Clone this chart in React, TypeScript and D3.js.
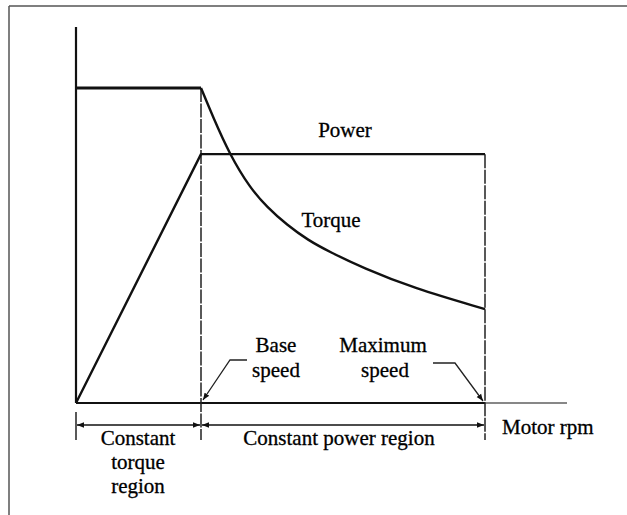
import React from "react";
import * as d3 from "d3";

// Speed in units of base speed, values in units of rated torque
const powerSpeed = [0, 1, 3.272];
const powerValue = [0, 0.79, 0.79];
const torqueFlatSpeed = [0, 1];
const torqueFlatValue = [1, 1];
const torqueSpeed = [1, 1.096, 1.232, 1.392, 1.528, 1.688, 1.856, 2.032, 2.296, 2.696, 3.272];
const torqueValue = [1, 0.908, 0.787, 0.683, 0.622, 0.565, 0.517, 0.479, 0.429, 0.365, 0.298];
const baseSpeed = 1;
const maxSpeed = 3.272;
const axisMaxSpeed = 3.928;
const axisMaxValue = 1.194;

const W = 627;
const H = 515;
const FONT = "'Liberation Serif', 'Times New Roman', serif";

export default function App() {
  const x = d3.scaleLinear().domain([0, 1]).range([76, 201]);
  const y = d3.scaleLinear().domain([0, 1]).range([403, 88]);

  const mk = (xs: number[]) =>
    d3
      .line<number>()
      .x((_, i) => x(xs[i]))
      .y((d) => y(d));
  const powerLine = mk(powerSpeed);
  const torqueFlat = mk(torqueFlatSpeed);
  const torqueLine = mk(torqueSpeed).curve(d3.curveBasis);

  const x0 = x(0);
  const xb = x(baseSpeed);
  const xm = x(maxSpeed);
  const yAxis0 = y(0);
  const dimY = 425;
  const tickBottom = 440;

  const textStyle: React.CSSProperties = {
    fontFamily: FONT,
    fontSize: 21,
    fill: "#000",
    stroke: "#000",
    strokeWidth: 0.3,
  };

  return (
    <svg
      width={W}
      height={H}
      style={{ position: "absolute", left: 0, top: 0, background: "#fff" }}
    >
      <defs>
        <marker id="arr" viewBox="0 0 10 10" refX="10" refY="5" markerWidth="7" markerHeight="7" orient="auto-start-reverse" markerUnits="userSpaceOnUse">
          <path d="M0,1 L10,5 L0,9 Z" fill="#111" />
        </marker>
      </defs>
      {/* frame */}
      <line x1={9} y1={6} x2={627} y2={6} stroke="#555" strokeWidth={1.5} />
      <line x1={9} y1={6} x2={9} y2={515} stroke="#555" strokeWidth={1.5} />

      {/* axes */}
      <line x1={x0} y1={y(axisMaxValue)} x2={x0} y2={yAxis0} stroke="#111" strokeWidth={2.2} />
      <line x1={x0} y1={yAxis0} x2={xm} y2={yAxis0} stroke="#111" strokeWidth={2} />
      <line x1={xm} y1={yAxis0} x2={x(axisMaxSpeed)} y2={yAxis0} stroke="#111" strokeWidth={1.2} />

      {/* vertical dashed lines */}
      <line x1={xb} y1={y(1)} x2={xb} y2={tickBottom} stroke="#222" strokeWidth={1.5} strokeDasharray="14,1.5" />
      <line x1={xm} y1={y(powerValue[2])} x2={xm} y2={tickBottom} stroke="#222" strokeWidth={1.5} strokeDasharray="14,1.5" />
      <line x1={x0} y1={412} x2={x0} y2={tickBottom} stroke="#222" strokeWidth={1.5} />

      {/* curves */}
      <path d={powerLine(powerValue) || ""} fill="none" stroke="#111" strokeWidth={2.4} strokeLinejoin="round" />
      <path d={torqueFlat(torqueFlatValue) || ""} fill="none" stroke="#111" strokeWidth={2.8} />
      <path d={torqueLine(torqueValue) || ""} fill="none" stroke="#111" strokeWidth={2.4} strokeLinejoin="round" />

      {/* dimension lines */}
      <line x1={x0 + 1} y1={dimY} x2={xb - 1} y2={dimY} stroke="#111" strokeWidth={1.5} markerStart="url(#arr)" markerEnd="url(#arr)" />
      <line x1={xb + 1} y1={dimY} x2={xm - 1} y2={dimY} stroke="#111" strokeWidth={1.5} markerStart="url(#arr)" markerEnd="url(#arr)" />

      {/* leaders */}
      <polyline points={`247,360 230,360 ${xb + 2},${yAxis0 - 3}`} fill="none" stroke="#222" strokeWidth={1.3} markerEnd="url(#arr)" />
      <polyline points={`433,363 455,363 ${xm - 2},${yAxis0 - 2}`} fill="none" stroke="#222" strokeWidth={1.3} markerEnd="url(#arr)" />

      {/* labels */}
      <text x={345} y={137} textAnchor="middle" style={textStyle}>Power</text>
      <text x={331} y={227} textAnchor="middle" style={textStyle}>Torque</text>
      <text x={276} y={352} textAnchor="middle" style={textStyle}>Base</text>
      <text x={276} y={377} textAnchor="middle" style={textStyle}>speed</text>
      <text x={383} y={352} textAnchor="middle" style={textStyle}>Maximum</text>
      <text x={385} y={377} textAnchor="middle" style={textStyle}>speed</text>
      <text x={502} y={434} style={textStyle}>Motor rpm</text>
      <text x={138} y={445} textAnchor="middle" style={textStyle}>Constant</text>
      <text x={138} y={469} textAnchor="middle" style={textStyle}>torque</text>
      <text x={138} y={493} textAnchor="middle" style={textStyle}>region</text>
      <text x={339} y={445} textAnchor="middle" style={textStyle}>Constant power region</text>
    </svg>
  );
}
